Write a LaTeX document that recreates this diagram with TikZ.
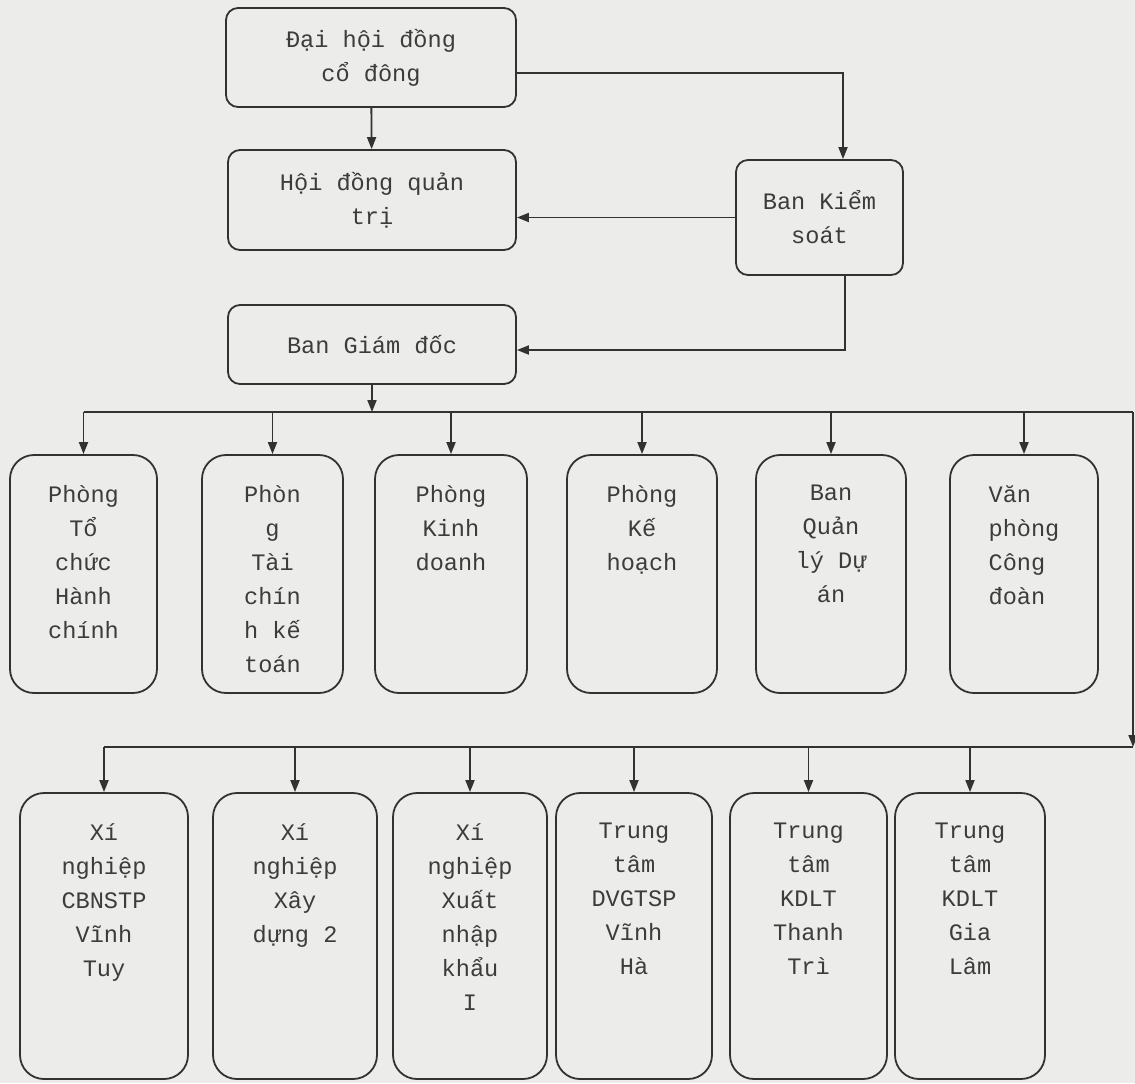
\documentclass[tikz,border=0pt]{standalone}
\usepackage{fontspec}
\newfontfamily\courfont{Liberation Mono}
\usetikzlibrary{arrows.meta}

\definecolor{paper}{RGB}{236,236,234}
\definecolor{ink}{RGB}{50,50,50}
\definecolor{txt}{RGB}{60,60,60}

\tikzset{
  boxfont/.style={font=\courfont\fontsize{11.8}{17}\selectfont, text=txt},
  orgbox/.style={draw=ink, line width=0.9pt, rounded corners=6pt, inner sep=0pt, boxfont, align=center},
  unitbox/.style={draw=ink, line width=0.9pt, rounded corners=12pt, inner sep=0pt},
  deptbox/.style={unitbox, minimum height=119pt},
  branchbox/.style={unitbox, minimum height=143pt},
  unittext/.style={anchor=north, yshift=-12pt, align=center, boxfont},
  wire/.style={draw=ink, line width=0.9pt},
  link/.style={wire, -{Triangle[length=6pt,width=4.5pt]}},
}

\begin{document}
\begin{tikzpicture}[x=0.5pt,y=-0.5pt]
  \fill[paper] (0,0) rectangle (1135,1083);
  \useasboundingbox (0,0) rectangle (1135,1083);

  % management
  \node[orgbox, minimum width=145pt, minimum height=49.5pt] (dhcd) at (371,57.5) {Đại hội đồng\\cổ đông};
  \node[orgbox, minimum width=144pt, minimum height=50pt] (hdqt) at (372,200) {Hội đồng quản\\trị};
  \node[orgbox, minimum width=83.5pt, minimum height=57.5pt] (bks) at (819.5,217.5) {Ban Kiểm\\soát};
  \node[orgbox, minimum width=144pt, minimum height=39.5pt] (bgd) at (372,344.5) {Ban Giám đốc};

  \draw[link] (dhcd) -- (hdqt);
  \draw[link] ([yshift=-7.75pt]dhcd.east) -| ([xshift=11.75pt]bks.north);
  \draw[link] (bks.west) -- (hdqt.east |- bks.west);
  \draw[link] ([xshift=12.75pt]bks.south) |- ([yshift=-2.75pt]bgd.east);

  % buses
  \coordinate (bus1) at (85,412);
  \coordinate (bus1r) at (1133,412);
  \coordinate (bus2r) at (1133,747);
  \draw[link] (bgd.south) -- (bgd.south |- bus1);

  % departments
  \node[deptbox, minimum width=73.5pt, label={[unittext]north:{Phòng\\Tổ\\chức\\Hành\\chính}}] (tchc) at (83.5,574) {};
  \node[deptbox, minimum width=70.5pt, label={[unittext]north:{Phòn\\g\\Tài\\chín\\h kế\\toán}}] (tckt) at (272.5,574) {};
  \node[deptbox, minimum width=76pt, label={[unittext]north:{Phòng\\Kinh\\doanh}}] (kd) at (451,574) {};
  \node[deptbox, minimum width=75pt, label={[unittext]north:{Phòng\\Kế\\hoạch}}] (kh) at (642,574) {};
  \node[deptbox, minimum width=75pt, label={[unittext]north:{Ban\\Quản\\lý Dự\\án}}] (qlda) at (831,574) {};
  \node[deptbox, minimum width=74pt, label={[unittext, align=left]north:{Văn\\phòng\\Công\\đoàn}}] (vpcd) at (1024,574) {};

  % branches
  \node[branchbox, minimum width=84pt, label={[unittext]north:{Xí\\nghiệp\\CBNSTP\\Vĩnh\\Tuy}}] (xnvt) at (104,936) {};
  \node[branchbox, minimum width=82pt, label={[unittext]north:{Xí\\nghiệp\\Xây\\dựng 2}}] (xnxd) at (295,936) {};
  \node[branchbox, minimum width=77pt, label={[unittext]north:{Xí\\nghiệp\\Xuất\\nhập\\khẩu\\I}}] (xnxk) at (470,936) {};
  \node[branchbox, minimum width=78pt, label={[unittext]north:{Trung\\tâm\\DVGTSP\\Vĩnh\\Hà}}] (ttvh) at (634,936) {};
  \node[branchbox, minimum width=78.5pt, label={[unittext]north:{Trung\\tâm\\KDLT\\Thanh\\Trì}}] (tttt) at (808.5,936) {};
  \node[branchbox, minimum width=75pt, label={[unittext]north:{Trung\\tâm\\KDLT\\Gia\\Lâm}}] (ttgl) at (970,936) {};

  \draw[wire] (tchc.north |- bus1) -- (bus1r);
  \draw[link] (bus1r) -- (bus2r);
  \draw[wire] (xnvt.north |- bus2r) -- (bus2r);
  \foreach \n in {tchc,tckt,kd,kh,qlda,vpcd}
    \draw[link] (\n.north |- bus1) -- (\n.north);
  \foreach \n in {xnvt,xnxd,xnxk,ttvh,tttt,ttgl}
    \draw[link] (\n.north |- bus2r) -- (\n.north);
\end{tikzpicture}
\end{document}
